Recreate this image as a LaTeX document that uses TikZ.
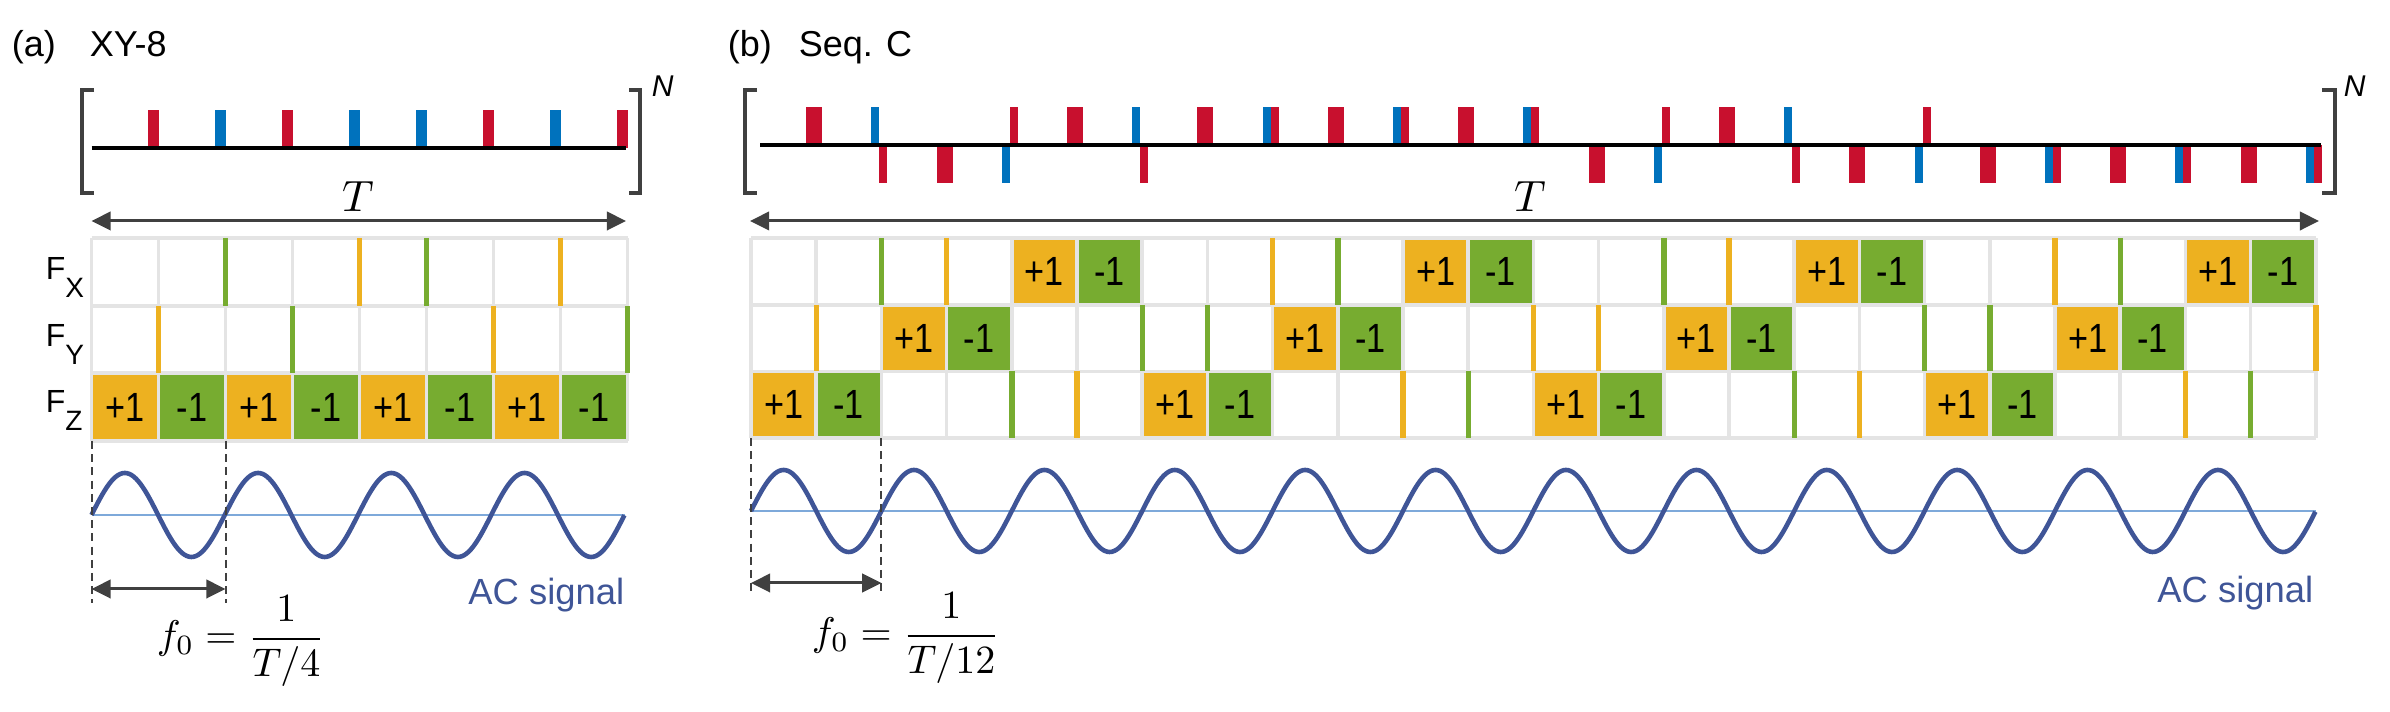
\documentclass[tikz,border=0pt]{standalone}
\usepackage[no-math]{fontspec}
\setmainfont{Liberation Sans}
\newfontfamily\cellfont{Liberation Sans}[FakeStretch=0.84]
\usepackage{amsmath}
\usetikzlibrary{arrows.meta}
\definecolor{cOr}{HTML}{EDB120}
\definecolor{cGr}{HTML}{77AC30}
\definecolor{cRd}{HTML}{C8102E}
\definecolor{cBl}{HTML}{0072BD}
\definecolor{cSine}{HTML}{3F5597}
\definecolor{cAxis}{HTML}{7EA9DA}
\definecolor{cGrid}{HTML}{E4E4E4}
\definecolor{cDark}{HTML}{404040}
\tikzset{
  gridline/.style={draw=cGrid, line width=0.9pt},
  togline/.style={line width=1.35pt},
  dimarrow/.style={draw=cDark, line width=0.75pt,
     {Triangle[length=4.8pt,width=4.6pt]}-{Triangle[length=4.8pt,width=4.6pt]}},
  brk/.style={draw=cDark, line width=1pt},
  dashv/.style={draw=cDark, line width=0.5pt, dash pattern=on 2pt off 1.3pt},
  baseln/.style={draw=black, line width=0.8pt},
  sinecurve/.style={draw=cSine, line width=1.15pt, line join=round},
  axisln/.style={draw=cAxis, line width=0.5pt},
  cellnum/.style={font=\cellfont\fontsize{10.2}{12}\selectfont, inner sep=0pt},
  titlelab/.style={font=\fontsize{9}{11}\selectfont, inner sep=0pt, anchor=base west},
  rowlab/.style={font=\fontsize{8}{10}\selectfont, inner sep=0pt, anchor=base west},
  nlab/.style={font=\fontsize{7.5}{9}\selectfont\itshape, inner sep=0pt, anchor=base west},
  tlab/.style={font=\fontsize{11}{13}\selectfont, inner sep=0pt, anchor=base},
  flab/.style={font=\fontsize{10.4}{12}\selectfont, inner sep=0pt, anchor=base},
  aclab/.style={font=\fontsize{9.1}{11}\selectfont, text=cSine, inner sep=0pt, anchor=base east},
}
\newcommand{\subl}[1]{\raisebox{-4.3pt}{\fontsize{7}{8}\selectfont #1}}
\begin{document}
\begin{tikzpicture}[x=0.25pt,y=-0.25pt]
\useasboundingbox (0,0) rectangle (2390,712);
% ---------- titles
\node[titlelab] (ta) at (11,57) {(a)};
\node[titlelab] (tan) at (89,57) {XY-8};
\node[titlelab] (tb) at (727,57) {(b)};
\node[titlelab] (tbn) at (798,57) {Seq. C};

% ================= Panel (a) =================
\def\axo{91.5}\def\acw{67}
% pulses
\foreach \k/\c in {1/cRd,2/cBl,3/cRd,4/cBl,5/cBl,6/cRd,7/cBl,8/cRd}{
  \fill[\c] ({\axo+\acw*\k-11},110) rectangle ({\axo+\acw*\k},148);
}
\coordinate (abl) at (\axo,148); \coordinate (abr) at (626,148);
\draw[baseln] (abl) -- (abr);
% brackets
\draw[brk] (94,90) -- (82,90) -- (82,193) -- (94,193);
\draw[brk] (629,90) -- (640,90) -- (640,193) -- (629,193);
\node[nlab] (an) at (651,97) {N};
% T arrow
\coordinate (aTl) at (\axo,221); \coordinate (aTr) at (626,221);
\draw[dimarrow] (aTl) -- (aTr);
\node[tlab] (aT) at (358,212) {$T$};
% grid cells F_Z
\foreach \i in {0,2,4,6}{
  \fill[cOr] ({\axo+\acw*\i},373) rectangle ({\axo+\acw*(\i+1)},441);
  \node[cellnum] (azp\i) at ({\axo+\acw*(\i+0.5)},407) {+1};
}
\foreach \i in {1,3,5,7}{
  \fill[cGr] ({\axo+\acw*\i},373) rectangle ({\axo+\acw*(\i+1)},441);
  \node[cellnum] (azm\i) at ({\axo+\acw*(\i+0.5)},407) {-1};
}
% grid lines
\foreach \yy in {238,306,373,441}{
  \draw[gridline] (\axo,\yy) -- ({\axo+8*\acw},\yy);
}
\foreach \k in {0,...,8}{
  \draw[gridline] ({\axo+\acw*\k},238) -- ({\axo+\acw*\k},441);
}
% toggles
\foreach \k/\c in {2/cGr,4/cOr,5/cGr,7/cOr}{
  \draw[togline,\c] ({\axo+\acw*\k},238) -- ({\axo+\acw*\k},306);
}
\foreach \k/\c in {1/cOr,3/cGr,6/cOr,8/cGr}{
  \draw[togline,\c] ({\axo+\acw*\k},306) -- ({\axo+\acw*\k},373);
}
% row labels
\node[rowlab] (afx) at (45,280) {F\subl{X}};
\node[rowlab] (afy) at (45,347) {F\subl{Y}};
\node[rowlab] (afz) at (45,413) {F\subl{Z}};
% sine
\draw[axisln] (\axo,515) -- (624.5,515);
\draw[sinecurve] plot[domain=0:4, samples=241, smooth] ({\axo+133.25*\x},{515-42*sin(360*\x)});
% dashed
\coordinate (ad1t) at (\axo,441); \coordinate (ad1b) at (\axo,603);
\coordinate (ad2t) at (225.5,441); \coordinate (ad2b) at (225.5,603);
\draw[dashv] (ad1t) -- (ad1b);
\draw[dashv] (ad2t) -- (ad2b);
\coordinate (afl) at (\axo,589); \coordinate (afr) at (225.5,589);
\draw[dimarrow] (afl) -- (afr);
\node[flab] (af) at (241,649) {$f_0=\dfrac{1}{T/4}$};
\node[aclab] (aac) at (625,605) {AC signal};

% ================= Panel (b) =================
\def\bxo{751}\def\bcw{65.2}
% wide red pulses (d=-1 up, +1 down)
\foreach \k/\d in {1/-1,3/1,5/-1,7/-1,9/-1,11/-1,13/1,15/-1,17/1,19/1,21/1,23/1}{
  \fill[cRd] ({749+65.2*\k-8},145) rectangle ({749+65.2*\k+8},{145+38*\d});
}
% blue + narrow red pairs
\foreach \k/\bd/\rd in {2/-1/1,4/1/-1,6/-1/1,8/-1/-1,10/-1/-1,12/-1/-1,14/1/-1,16/-1/1,18/1/-1,20/1/1,22/1/1,24/1/1}{
  \fill[cBl] ({749+65.2*\k-8},145) rectangle ({749+65.2*\k},{145+38*\bd});
  \fill[cRd] ({749+65.2*\k},145) rectangle ({749+65.2*\k+8},{145+38*\rd});
}
\coordinate (bbl) at (760,145); \coordinate (bbr) at (2320.6,145);
\draw[baseln] (bbl) -- (bbr);
\draw[brk] (757,90) -- (745,90) -- (745,193) -- (757,193);
\draw[brk] (2322,90) -- (2335,90) -- (2335,193) -- (2322,193);
\node[nlab] (bn) at (2343,97) {N};
\coordinate (bTl) at (750,221); \coordinate (bTr) at (2319,221);
\draw[dimarrow] (bTl) -- (bTr);
\node[tlab] (bT) at (1530,212) {$T$};
% cells
\foreach \i in {4,10,16,22}{
  \fill[cOr] ({\bxo+\bcw*\i},238) rectangle ({\bxo+\bcw*(\i+1)},305);
  \node[cellnum] (bxp\i) at ({\bxo+\bcw*(\i+0.5)},271.5) {+1};
  \fill[cGr] ({\bxo+\bcw*(\i+1)},238) rectangle ({\bxo+\bcw*(\i+2)},305);
  \node[cellnum] (bxm\i) at ({\bxo+\bcw*(\i+1.5)},271.5) {-1};
}
\foreach \i in {2,8,14,20}{
  \fill[cOr] ({\bxo+\bcw*\i},305) rectangle ({\bxo+\bcw*(\i+1)},371.5);
  \node[cellnum] (byp\i) at ({\bxo+\bcw*(\i+0.5)},338.25) {+1};
  \fill[cGr] ({\bxo+\bcw*(\i+1)},305) rectangle ({\bxo+\bcw*(\i+2)},371.5);
  \node[cellnum] (bym\i) at ({\bxo+\bcw*(\i+1.5)},338.25) {-1};
}
\foreach \i in {0,6,12,18}{
  \fill[cOr] ({\bxo+\bcw*\i},371.5) rectangle ({\bxo+\bcw*(\i+1)},438);
  \node[cellnum] (bzp\i) at ({\bxo+\bcw*(\i+0.5)},404.75) {+1};
  \fill[cGr] ({\bxo+\bcw*(\i+1)},371.5) rectangle ({\bxo+\bcw*(\i+2)},438);
  \node[cellnum] (bzm\i) at ({\bxo+\bcw*(\i+1.5)},404.75) {-1};
}
% grid lines
\foreach \yy in {238,305,371.5,438}{
  \draw[gridline] (\bxo,\yy) -- ({\bxo+24*\bcw},\yy);
}
\foreach \k in {0,...,24}{
  \draw[gridline] ({\bxo+\bcw*\k},238) -- ({\bxo+\bcw*\k},438);
}
% toggles
\foreach \k/\c in {2/cGr,3/cOr,8/cOr,9/cGr,14/cGr,15/cOr,20/cOr,21/cGr}{
  \draw[togline,\c] ({\bxo+\bcw*\k},238) -- ({\bxo+\bcw*\k},305);
}
\foreach \k/\c in {1/cOr,6/cGr,7/cGr,12/cOr,13/cOr,18/cGr,19/cGr,24/cOr}{
  \draw[togline,\c] ({\bxo+\bcw*\k},305) -- ({\bxo+\bcw*\k},371.5);
}
\foreach \k/\c in {4/cGr,5/cOr,10/cOr,11/cGr,16/cGr,17/cOr,22/cOr,23/cGr}{
  \draw[togline,\c] ({\bxo+\bcw*\k},371.5) -- ({\bxo+\bcw*\k},438);
}
% sine
\draw[axisln] (\bxo,511) -- (2316,511);
\draw[sinecurve] plot[domain=0:12, samples=721, smooth] ({\bxo+130.4*\x},{511-41*sin(360*\x)});
\coordinate (bd1t) at (\bxo,438); \coordinate (bd1b) at (\bxo,595);
\coordinate (bd2t) at (881.4,438); \coordinate (bd2b) at (881.4,595);
\draw[dashv] (bd1t) -- (bd1b);
\draw[dashv] (bd2t) -- (bd2b);
\coordinate (bfl) at (\bxo,583); \coordinate (bfr) at (881.4,583);
\draw[dimarrow] (bfl) -- (bfr);
\node[flab] (bf) at (906,646) {$f_0=\dfrac{1}{T/12}$};
\node[aclab] (bac) at (2314,603) {AC signal};
\end{tikzpicture}
\end{document}
